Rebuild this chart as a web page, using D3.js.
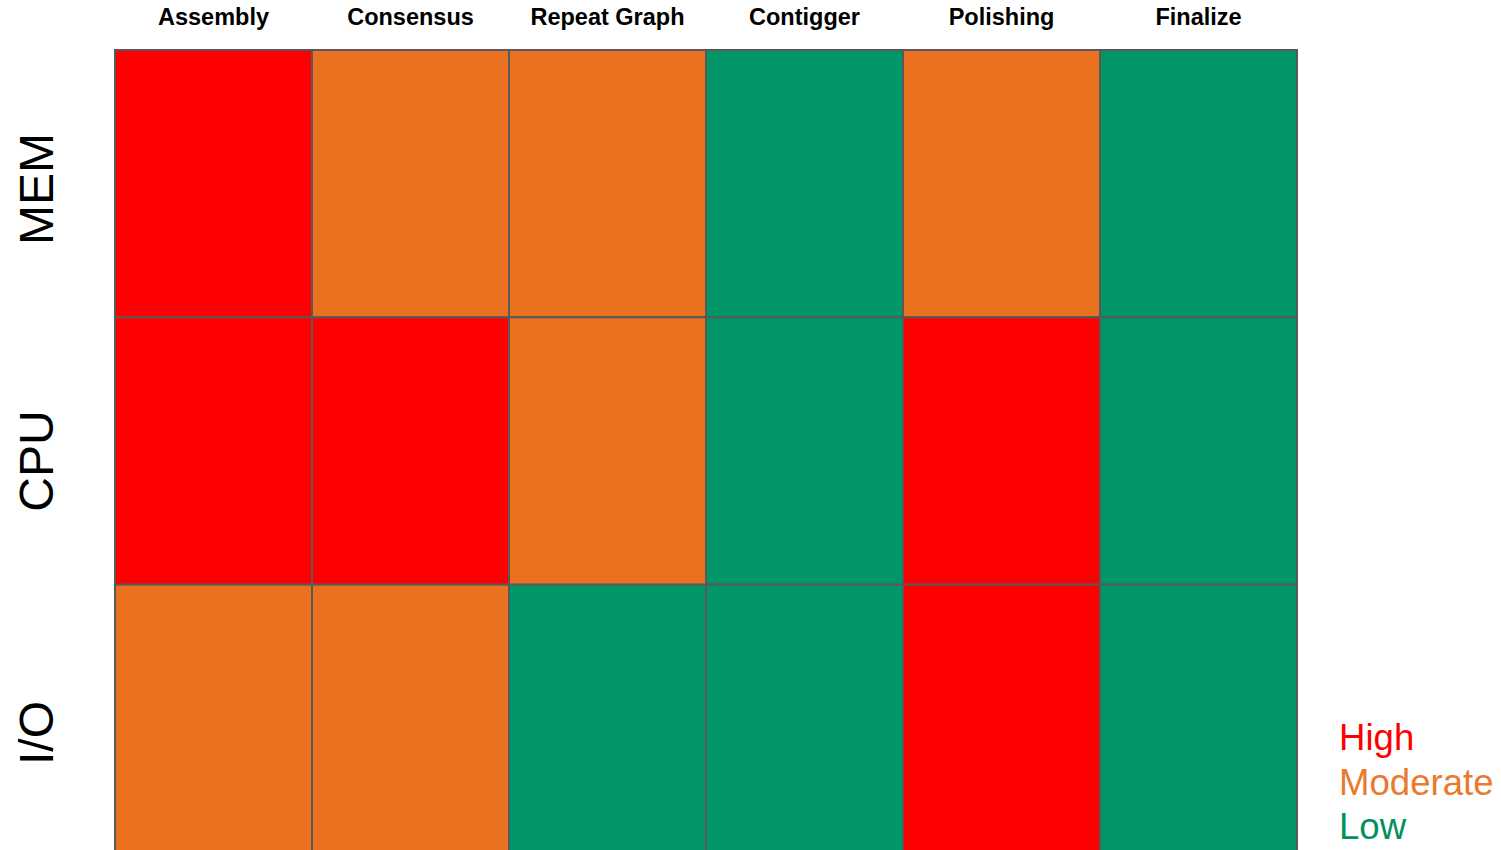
<!DOCTYPE html>
<html>
<head>
<meta charset="utf-8">
<script src="https://cdn.jsdelivr.net/npm/d3@7"></script>
<style>
  html, body { margin: 0; padding: 0; background: #ffffff; }
  svg { display: block; }
</style>
</head>
<body>
<script>
// Pipeline stages (columns) and resources (rows)
const stages = ["Assembly", "Consensus", "Repeat Graph", "Contigger", "Polishing", "Finalize"];
const resources = ["MEM", "CPU", "I/O"];

// Resource usage level per row, one entry per stage
const memUsage = ["High", "Moderate", "Moderate", "Low", "Moderate", "Low"];
const cpuUsage = ["High", "High", "Moderate", "Low", "High", "Low"];
const ioUsage  = ["Moderate", "Moderate", "Low", "Low", "High", "Low"];

// Legend entries, top to bottom
const levels = ["High", "Moderate", "Low"];

const W = 1501, H = 850;
const svg = d3.select("body").append("svg").attr("width", W).attr("height", H);

const x = d3.scaleBand().domain(stages).range([115, 1297]);
const y = d3.scaleBand().domain(resources).range([50, 852]);
// Vertical positions of the rotated row labels
const yLabel = d3.scalePoint().domain(resources).range([189, 733]);

const fill = d3.scaleOrdinal()
  .domain(levels)
  .range(["#ff0000", "#e9711f", "#009668"]);
const legendColor = d3.scaleOrdinal()
  .domain(levels)
  .range(["#ff0000", "#e97a2e", "#00915f"]);

const rows = [memUsage, cpuUsage, ioUsage];
const cells = [];
resources.forEach((r, i) => rows[i].forEach((v, j) => cells.push({ resource: r, stage: stages[j], level: v })));

svg.append("g").selectAll("rect")
  .data(cells)
  .join("rect")
  .attr("x", d => x(d.stage))
  .attr("y", d => y(d.resource))
  .attr("width", x.bandwidth())
  .attr("height", y.bandwidth())
  .attr("fill", d => fill(d.level))
  .attr("stroke", "#595959")
  .attr("stroke-width", 2);

// Column headers
svg.append("g").selectAll("text")
  .data(stages)
  .join("text")
  .attr("x", d => x(d) + x.bandwidth() / 2)
  .attr("y", 25)
  .attr("text-anchor", "middle")
  .attr("font-family", "Liberation Sans, Arial, sans-serif")
  .attr("font-weight", "bold")
  .attr("font-size", 23.5)
  .attr("fill", "#000")
  .text(d => d);

// Row labels, rotated
svg.append("g").selectAll("text")
  .data(resources)
  .join("text")
  .attr("transform", d => `translate(53,${yLabel(d)}) rotate(-90)`)
  .attr("text-anchor", "middle")
  .attr("font-family", "Liberation Sans, Arial, sans-serif")
  .attr("font-size", 48)
  .attr("fill", "#000")
  .text(d => d);

// Legend
svg.append("g").selectAll("text")
  .data(levels)
  .join("text")
  .attr("x", 1339)
  .attr("y", (d, i) => 750 + i * 44.5)
  .attr("font-family", "Liberation Sans, Arial, sans-serif")
  .attr("font-size", 36.6)
  .attr("fill", d => legendColor(d))
  .text(d => d);
</script>
</body>
</html>
